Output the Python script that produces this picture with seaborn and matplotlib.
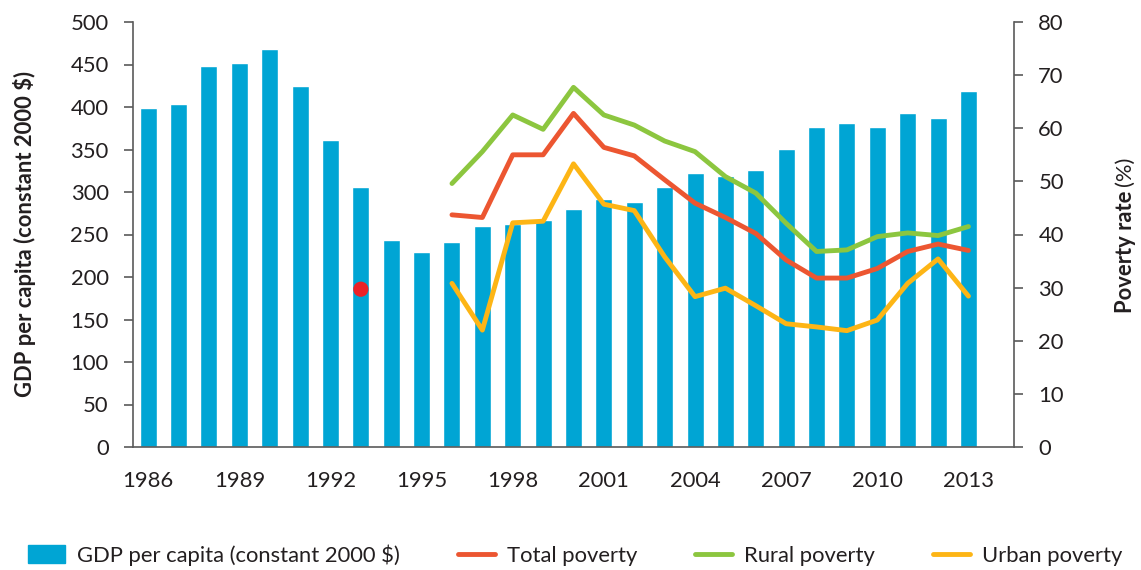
import numpy as np
import pandas as pd
import seaborn as sns
import matplotlib.pyplot as plt
from matplotlib.patches import Patch
from matplotlib.lines import Line2D

years = list(range(1986, 2014))
gdp = [399, 404, 448, 452, 468, 425, 361, 306, 244, 229, 241, 260, 262, 267,
       280, 292, 288, 306, 322, 319, 326, 351, 376, 381, 376, 393, 387, 419]

pov_years = list(range(1996, 2014))
total_pov = [43.7, 43.2, 55.0, 55.0, 62.8, 56.4, 54.8, 50.3, 45.9, 43.2,
             40.2, 35.2, 31.8, 31.8, 33.6, 36.8, 38.2, 37.0]
rural_pov = [49.6, 55.6, 62.5, 59.8, 67.7, 62.5, 60.6, 57.6, 55.6, 50.9,
             47.8, 42.1, 36.8, 37.1, 39.6, 40.3, 39.8, 41.5]
urban_pov = [30.8, 22.0, 42.2, 42.5, 53.3, 45.7, 44.5, 35.8, 28.3, 29.9,
             26.6, 23.2, 22.6, 21.9, 23.9, 30.8, 35.4, 28.4]

dot_year = [1993]
dot_value = [29.7]

series_names = ['Total poverty', 'Rural poverty', 'Urban poverty']
colors = {'Total poverty': '#EC5631', 'Rural poverty': '#8CC63F', 'Urban poverty': '#FDB515'}
bar_color = '#00A5D4'
text_color = '#231F20'
spine_color = '#5a5a5a'

sns.set_style('white')
plt.rcParams['font.family'] = ['Lato', 'DejaVu Sans']
fs = 15.8

gdp_df = pd.DataFrame({'year': years, 'gdp': gdp})
pov_df = pd.DataFrame({'year': pov_years, 'Total poverty': total_pov,
                       'Rural poverty': rural_pov, 'Urban poverty': urban_pov})
pov_long = pov_df.melt(id_vars='year', var_name='series', value_name='rate')

fig = plt.figure(figsize=(11.41, 5.70), dpi=100)
ax = fig.add_axes([133/1141, 1-447/570, (1014-133)/1141, (447-22)/570])

# bars: GDP per capita on the left axis
sns.barplot(data=gdp_df, x='year', y='gdp', native_scale=True, width=0.56,
            color=bar_color, saturation=1, ax=ax)
ax.set_xlim(1985.5, 2014.5)
ax.set_ylim(0, 500)
ax.set_yticks(range(0, 501, 50))
ax.set_xticks(range(1986, 2014, 3))
ax.set_xticks(np.arange(1985.5, 2015, 1), minor=True)
ax.set_xlabel('')
ax.set_ylabel('')
ax.tick_params(axis='x', which='major', length=0, pad=17, labelsize=fs, labelcolor=text_color)
ax.tick_params(axis='x', which='minor', length=6.5, width=1.2, color=spine_color, direction='out')
ax.tick_params(axis='y', length=6.5, width=1.2, color=spine_color, pad=11,
               labelsize=fs, labelcolor=text_color, direction='out', left=True)
for s in ['top', 'right']:
    ax.spines[s].set_visible(False)
for s in ['left', 'bottom']:
    ax.spines[s].set_color(spine_color)
    ax.spines[s].set_linewidth(1.2)

# poverty lines on the right axis
ax2 = ax.twinx()
sns.lineplot(data=pov_long, x='year', y='rate', hue='series', hue_order=series_names,
             palette=colors, linewidth=3.5, legend=False, ax=ax2,
             solid_capstyle='round', solid_joinstyle='round')
sns.scatterplot(x=dot_year, y=dot_value, color='#EC2227', s=120, edgecolor='none', ax=ax2, zorder=5)
ax2.set_ylim(0, 80)
ax2.set_yticks(range(0, 81, 10))
ax2.set_xlim(1985.5, 2014.5)
ax2.set_xlabel('')
ax2.set_ylabel('')
ax2.tick_params(axis='y', length=6.5, width=1.2, color=spine_color, pad=11,
                labelsize=fs, labelcolor=text_color, direction='out', right=True)
for s in ['top', 'left', 'bottom']:
    ax2.spines[s].set_visible(False)
ax2.spines['right'].set_color(spine_color)
ax2.spines['right'].set_linewidth(1.2)

fig.text(25/1141, 1-234/570, 'GDP per capita (constant 2000 $)', rotation=90,
         ha='center', va='center', fontsize=fs, fontweight='bold', color=text_color)
t1 = fig.text(1125/1141, 1-313/570, 'Poverty rate', rotation=90, ha='center', va='bottom',
              fontsize=fs, fontweight='bold', color=text_color)
fig.canvas.draw()
bb = t1.get_window_extent()
fig.text(1125/1141, (bb.y1 + 4)/570, '(%)', rotation=90, ha='center', va='bottom',
         fontsize=fs, color=text_color)

handles = [Patch(color=bar_color)] + [Line2D([], [], color=colors[n], lw=3.5) for n in series_names]
labels = ['GDP per capita (constant 2000 $)'] + series_names
fig.legend(handles, labels, loc='center left', bbox_to_anchor=(28/1141, 1-555/570), ncol=4,
           frameon=False, handlelength=1.7, handleheight=0.87, handletextpad=0.55,
           columnspacing=2.62, borderpad=0, borderaxespad=0, fontsize=fs, labelcolor=text_color)

fig.savefig('out.png', dpi=100, facecolor='white')
